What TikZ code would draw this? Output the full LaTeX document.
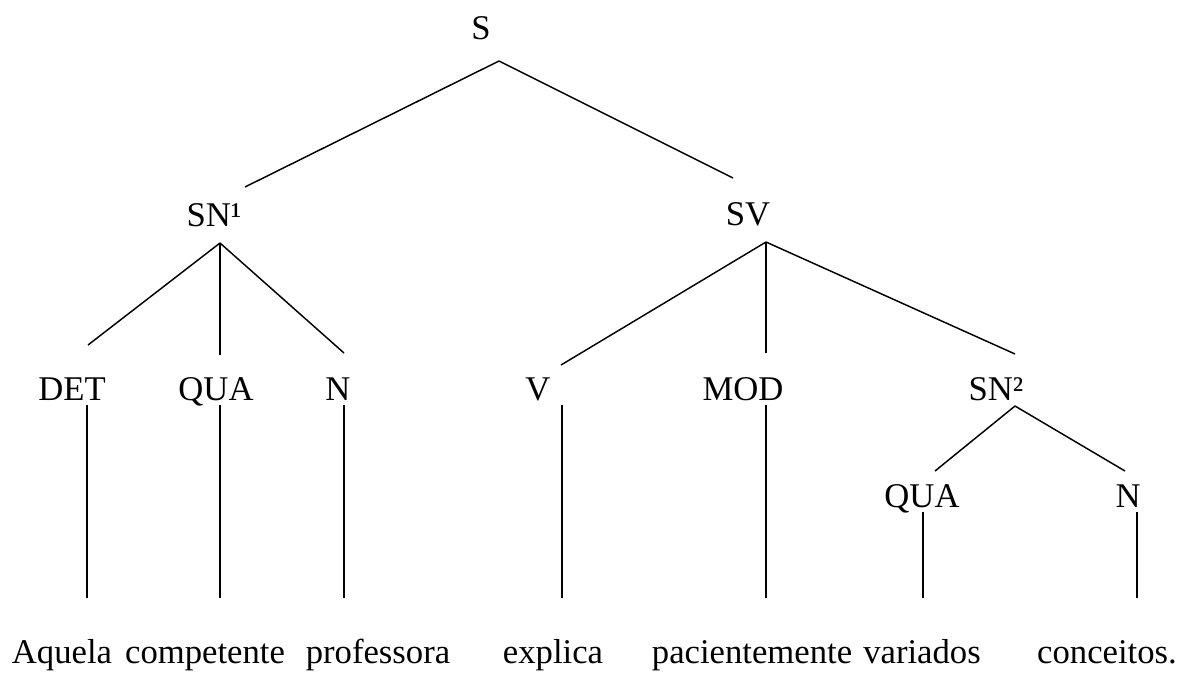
\documentclass[tikz,border=0pt]{standalone}
\usepackage{fontspec}
\setmainfont{Liberation Serif}

\begin{document}
\begin{tikzpicture}[x=0.75pt, y=-0.75pt, font=\fontsize{26pt}{30pt}\selectfont,
		every node/.style={inner sep=0pt, anchor=base},
		branch/.style={draw, line width=1.1pt}]
		\useasboundingbox (0, 0) rectangle (1180, 672);
		\node (S) at (481, 39) {S};
		\node (SNone) at (214, 226) {SN¹};
		\node (SV) at (748, 225) {SV};
		\node (DET) at (72, 400) {DET};
		\node (QUA) at (216, 400) {QUA};
		\node (N) at (338, 400) {N};
		\node (V) at (538, 400) {V};
		\node (MOD) at (743, 400) {MOD};
		\node (SNtwo) at (996, 400) {SN²};
		\node (QUAtwo) at (922, 507) {QUA};
		\node (Ntwo) at (1128, 507) {N};
		\node (Aquela) at (62, 663) {Aquela};
		\node (competente) at (205, 663) {competente};
		\node (professora) at (378, 663) {professora};
		\node (explica) at (553, 663) {explica};
		\node (pacientemente) at (752, 663) {pacientemente};
		\node (variados) at (922, 663) {variados};
		\node (conceitos) at (1107, 663) {conceitos.};
		\coordinate (Sfoot) at (499, 61);
		\coordinate (SNoneHead) at (245, 187);
		\coordinate (SVhead) at (733, 178);
		\coordinate (SNoneFoot) at (220, 243);
		\coordinate (SVfoot) at (766, 242);
		\coordinate (DEThead) at (88, 345);
		\coordinate (QUAhead) at (220, 355);
		\coordinate (Nhead) at (344, 353);
		\coordinate (Vhead) at (561, 365);
		\coordinate (MODhead) at (766, 353);
		\coordinate (SNtwoHead) at (1015, 354);
		\coordinate (SNtwoFoot) at (1015, 406);
		\coordinate (QUAtwoHead) at (935, 471);
		\coordinate (NtwoHead) at (1125, 471);
		\coordinate (DETfoot) at (87, 405);
		\coordinate (QUAfoot) at (220, 405);
		\coordinate (Nfoot) at (344, 405);
		\coordinate (Vfoot) at (562, 405);
		\coordinate (MODfoot) at (766, 405);
		\coordinate (QUAtwoFoot) at (923, 512);
		\coordinate (NtwoFoot) at (1137, 512);
		\coordinate (AquelaHead) at (87, 598);
		\coordinate (competenteHead) at (220, 598);
		\coordinate (professoraHead) at (344, 598);
		\coordinate (explicaHead) at (562, 598);
		\coordinate (pacientementeHead) at (766, 598);
		\coordinate (variadosHead) at (923, 598);
		\coordinate (conceitosHead) at (1137, 598);
		\path [branch] (Sfoot) -- (SNoneHead);
		\path [branch] (Sfoot) -- (SVhead);
		\path [branch] (SNoneFoot) -- (DEThead);
		\path [branch] (SNoneFoot) -- (QUAhead);
		\path [branch] (SNoneFoot) -- (Nhead);
		\path [branch] (SVfoot) -- (Vhead);
		\path [branch] (SVfoot) -- (MODhead);
		\path [branch] (SVfoot) -- (SNtwoHead);
		\path [branch] (SNtwoFoot) -- (QUAtwoHead);
		\path [branch] (SNtwoFoot) -- (NtwoHead);
		\path [branch] (DETfoot) -- (AquelaHead);
		\path [branch] (QUAfoot) -- (competenteHead);
		\path [branch] (Nfoot) -- (professoraHead);
		\path [branch] (Vfoot) -- (explicaHead);
		\path [branch] (MODfoot) -- (pacientementeHead);
		\path [branch] (QUAtwoFoot) -- (variadosHead);
		\path [branch] (NtwoFoot) -- (conceitosHead);
	\end{tikzpicture}
\end{document}
